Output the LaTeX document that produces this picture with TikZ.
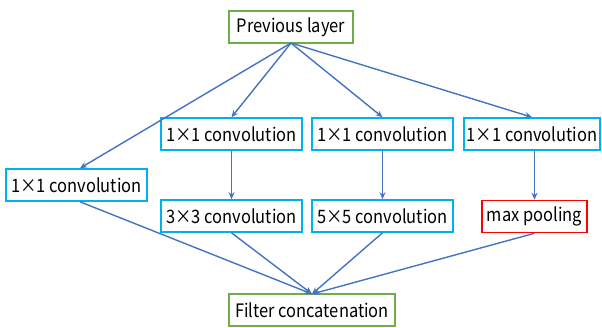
\documentclass[tikz,border=0pt]{standalone}
\usepackage{fontspec}
\setmainfont{Noto Sans CJK JP}[FakeStretch=0.89]
\usetikzlibrary{arrows.meta}
\definecolor{convcol}{HTML}{00B0F0}
\definecolor{layercol}{HTML}{70AD47}
\definecolor{poolcol}{HTML}{FF0000}
\definecolor{linkcol}{HTML}{4472C4}
\tikzset{
  box/.style={draw, line width=1.6pt, fill=white, inner sep=0pt, font=\fontsize{18.5}{20}\selectfont, minimum height=32pt},
  conv/.style={box, draw=convcol, minimum width=141pt},
  layer/.style={box, draw=layercol},
  pool/.style={box, draw=poolcol, minimum width=105pt},
  link/.style={draw=linkcol, line width=1.4pt, -{Stealth[length=7pt,width=6pt]}},
}
\begin{document}
\begin{tikzpicture}[x=1pt,y=-1pt]
\useasboundingbox (0,0) rectangle (602,327);
\node[layer, minimum width=124pt] (prev) at (291,27) {Previous layer};
\node[conv] (c0) at (76.5,185) {1×1 convolution};
\node[conv] (c1) at (231.5,134) {1×1 convolution};
\node[conv] (c2) at (382.5,134) {1×1 convolution};
\node[conv, minimum width=136pt] (c3) at (532,134) {1×1 convolution};
\node[conv] (c4) at (231.5,216) {3×3 convolution};
\node[conv] (c5) at (382.5,216) {5×5 convolution};
\node[pool] (pool) at (534.5,216.5) {max pooling};
\node[layer, minimum width=166pt] (cat) at (312,310) {Filter concatenation};
\coordinate (p0) at (291,43);
\coordinate (q0) at (312,294);
\draw[link] (p0) -- (c0.north -| 80,0);
\draw[link] (p0) -- (c1.north);
\draw[link] (p0) -- (c2.north);
\draw[link] (p0) -- (c3.north);
\draw[link] (c1) -- (c4);
\draw[link] (c2) -- (c5);
\draw[link] (c3.south -| pool.north) -- (pool.north);
\draw[link] (c0.south -| 80,0) -- (q0);
\draw[link] (c4.south) -- (q0);
\draw[link] (c5.south) -- (q0);
\draw[link] (pool.south) -- (q0);
\end{tikzpicture}
\end{document}
